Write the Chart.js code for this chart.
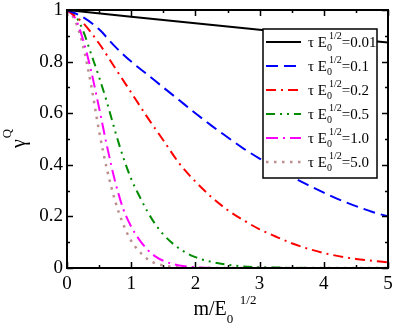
<!DOCTYPE html>
<html>
<head>
<meta charset="utf-8">
<script src="https://cdn.jsdelivr.net/npm/chart.js@4.4.1/dist/chart.umd.min.js"></script>
<style>
    body { margin: 0; background: #fff; }
    #wrap { width: 394px; height: 327px; }
</style>
</head>
<body>
<div id="wrap"><canvas id="chartGamma" width="394" height="327"></canvas></div>
<script>
// Значения
const xBlack = [0, 1, 2, 3, 4, 5];
const yBlack = [1, 0.974, 0.949, 0.923, 0.898, 0.874];

const xFine = [0, 0.25, 0.5, 0.75, 1, 1.25, 1.5, 1.75, 2, 2.25, 2.5, 2.75, 3, 3.25, 3.5, 3.75, 4, 4.25, 4.5, 4.75, 5];
const yBlue = [1, 0.972, 0.925, 0.858, 0.8, 0.75, 0.7, 0.65, 0.6, 0.552, 0.507, 0.463, 0.424, 0.388, 0.354, 0.322, 0.292, 0.264, 0.24, 0.218, 0.2];
const yRed = [1, 0.95, 0.87, 0.775, 0.68, 0.585, 0.495, 0.405, 0.335, 0.275, 0.225, 0.185, 0.15, 0.122, 0.096, 0.075, 0.058, 0.045, 0.035, 0.028, 0.022];

const xGreen = [0, 0.125, 0.25, 0.375, 0.5, 0.625, 0.75, 0.875, 1, 1.125, 1.25, 1.375, 1.5, 1.75, 2, 2.25, 2.5, 2.75, 3, 3.5, 4, 5];
const yGreen = [1, 0.98, 0.92, 0.83, 0.74, 0.64, 0.53, 0.43, 0.345, 0.28, 0.22, 0.17, 0.13, 0.075, 0.042, 0.024, 0.013, 0.006, 0.003, 0.001, 0, 0];

const xMagenta = [0, 0.125, 0.25, 0.375, 0.5, 0.625, 0.75, 0.875, 1, 1.125, 1.25, 1.375, 1.5, 1.75, 2, 2.5, 3, 5];
const yMagenta = [1, 0.97, 0.885, 0.765, 0.62, 0.47, 0.335, 0.23, 0.16, 0.11, 0.072, 0.045, 0.028, 0.01, 0.003, 0, 0, 0];

const xBrown = [0, 0.125, 0.25, 0.375, 0.5, 0.625, 0.75, 0.875, 1, 1.125, 1.25, 1.375, 1.5, 1.75, 2, 5];
const yBrown = [1, 0.96, 0.86, 0.71, 0.53, 0.38, 0.26, 0.17, 0.105, 0.065, 0.035, 0.018, 0.01, 0.002, 0, 0];

const tauLabels = ['0.01', '0.1', '0.2', '0.5', '1.0', '5.0'];
const xTicks = [0, 1, 2, 3, 4, 5];
const yTicks = [0, 0.2, 0.4, 0.6, 0.8, 1];

const serif = '"Liberation Serif", "Times New Roman", serif';

function toPoints(xs, ys) {
    return xs.map((x, i) => ({ x: x, y: ys[i] }));
}

function makeSet(label, xs, ys, color, dash, width) {
    return {
        label: label,
        data: toPoints(xs, ys),
        borderColor: color,
        backgroundColor: color,
        borderWidth: width || 2,
        borderDash: dash,
        pointRadius: 0,
        cubicInterpolationMode: 'monotone',
        fill: false
    };
}

// Рисование текста с индексами: куски [текст, размер, сдвиг по y]
function drawRich(ctx, parts, x, y) {
    let cx = x;
    parts.forEach(p => {
        ctx.font = p.size + 'px ' + serif;
        let px = p.dx !== undefined ? cx + p.dx : cx;
        ctx.fillText(p.t, px, y + (p.dy || 0));
        let w = ctx.measureText(p.t).width;
        if (!p.noAdvance) cx = px + w;
    });
    return cx;
}

// Рамка, внутренние засечки и легенда
const framePlugin = {
    id: 'frame',
    afterDatasetsDraw(chart) {
        const ctx = chart.ctx;
        const a = chart.chartArea;
        const sx = chart.scales.x;
        const sy = chart.scales.y;
        ctx.save();
        ctx.strokeStyle = '#000';
        ctx.lineWidth = 1.5;
        ctx.beginPath();
        for (let v = 0; v <= 5.001; v += 0.5) {
            const px = Math.round(sx.getPixelForValue(v)) + 0.5;
            const len = Math.abs(v - Math.round(v)) < 0.01 ? 6 : 3;
            ctx.moveTo(px, a.bottom); ctx.lineTo(px, a.bottom - len);
            ctx.moveTo(px, a.top); ctx.lineTo(px, a.top + len);
        }
        for (let i = 0; i <= 10; i++) {
            const py = Math.round(sy.getPixelForValue(i / 10)) + 0.5;
            const len = i % 2 === 0 ? 6 : 3;
            ctx.moveTo(a.left, py); ctx.lineTo(a.left + len, py);
            ctx.moveTo(a.right, py); ctx.lineTo(a.right - len, py);
        }
        ctx.stroke();
        ctx.lineWidth = 2;
        ctx.strokeRect(a.left, a.top, a.right - a.left, a.bottom - a.top);

        // легенда
        const bx = 263, by = 29, bw = 114, bh = 149;
        ctx.fillStyle = '#fff';
        ctx.fillRect(bx, by, bw, bh);
        ctx.lineWidth = 1.5;
        ctx.strokeStyle = '#000';
        ctx.strokeRect(bx, by, bw, bh);
        chart.data.datasets.forEach((ds, i) => {
            const base = 47 + i * 24;
            ctx.save();
            ctx.strokeStyle = ds.borderColor;
            ctx.lineWidth = ds.borderWidth;
            ctx.setLineDash(ds.borderDash || []);
            ctx.beginPath();
            ctx.moveTo(266, base - 5);
            ctx.lineTo(301, base - 5);
            ctx.stroke();
            ctx.restore();
            ctx.fillStyle = '#000';
            ctx.textBaseline = 'alphabetic';
            ctx.textAlign = 'left';
            drawRich(ctx, [
                { t: '\u03c4 E', size: 15 },
                { t: '0', size: 10, dy: 4, noAdvance: true },
                { t: '1/2', size: 10, dy: -8, dx: 2 },
                { t: '=' + ds.label, size: 15 }
            ], 308, base);
        });
        ctx.restore();
    },
    afterDraw(chart) {
        const ctx = chart.ctx;
        const a = chart.chartArea;
        ctx.save();
        ctx.fillStyle = '#000';
        ctx.textAlign = 'left';
        ctx.textBaseline = 'alphabetic';
        // подпись оси x
        const cx = (a.left + a.right) / 2 - 34;
        drawRich(ctx, [
            { t: 'm/E', size: 20 },
            { t: '0', size: 13, dy: 8, noAdvance: true },
            { t: '1/2', size: 13, dy: -11, dx: 13 }
        ], cx, 315);
        // подпись оси y
        ctx.translate(25, 148);
        ctx.rotate(-Math.PI / 2);
        ctx.font = '20px ' + serif;
        ctx.fillText('\u03b3', 0, 0);
        const w = ctx.measureText('\u03b3').width;
        ctx.font = '13px ' + serif;
        ctx.fillText('Q', w + 1, -14);
        ctx.restore();
    }
};

new Chart(document.getElementById('chartGamma'), {
    type: 'line',
    data: {
        datasets: [
            makeSet(tauLabels[0], xBlack, yBlack, '#000000', []),
            makeSet(tauLabels[1], xFine, yBlue, '#0000ff', [12, 6]),
            makeSet(tauLabels[2], xFine, yRed, '#ff0000', [10, 5, 2, 5]),
            makeSet(tauLabels[3], xGreen, yGreen, '#008b00', [9, 5, 2, 5, 2, 5]),
            makeSet(tauLabels[4], xMagenta, yMagenta, '#ff00ff', [12, 5, 2, 5]),
            makeSet(tauLabels[5], xBrown, yBrown, '#bc8f8f', [2.5, 5.5], 2.5)
        ]
    },
    options: {
        responsive: false,
        animation: false,
        layout: { padding: { left: 0, top: 10, right: 6, bottom: 0 } },
        plugins: {
            legend: { display: false },
            tooltip: { enabled: false }
        },
        scales: {
            x: {
                type: 'linear',
                min: 0,
                max: 5,
                grid: { display: false, drawTicks: false },
                border: { display: false },
                afterBuildTicks: s => { s.ticks = xTicks.map(v => ({ value: v })); },
                afterFit: s => { s.height = 59; s.paddingLeft = 0; s.paddingRight = 0; },
                ticks: {
                    color: '#000',
                    padding: 5,
                    maxRotation: 0,
                    font: { family: serif, size: 19 }
                }
            },
            y: {
                type: 'linear',
                min: 0,
                max: 1,
                grid: { display: false, drawTicks: false },
                border: { display: false },
                afterBuildTicks: s => { s.ticks = yTicks.map(v => ({ value: v })); },
                afterFit: s => { s.width = 67; s.paddingTop = 0; s.paddingBottom = 0; },
                ticks: {
                    color: '#000',
                    padding: 4,
                    font: { family: serif, size: 19 },
                    callback: v => String(v)
                }
            }
        }
    },
    plugins: [framePlugin]
});
</script>
</body>
</html>
